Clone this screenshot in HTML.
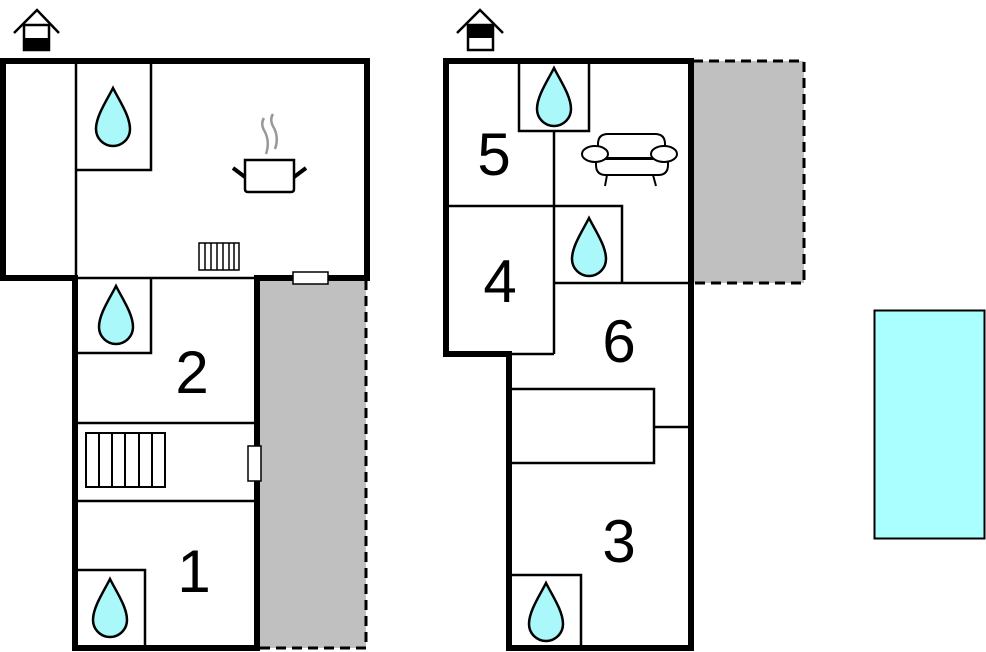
<!DOCTYPE html>
<html><head><meta charset="utf-8"><style>html,body{margin:0;padding:0;background:#fff}svg{display:block}</style></head>
<body>
<svg width="986" height="652" viewBox="0 0 986 652" xmlns="http://www.w3.org/2000/svg" font-family="Liberation Sans, sans-serif">
<defs>
<path id="drop" d="M0,0 C6,12 17,28 17,41 A17,17 0 0 1 -17,41 C-17,28 -6,12 0,0Z" fill="#aaf8fa" stroke="#000" stroke-width="2.5"/>
</defs>
<rect x="257" y="280" width="109" height="368" fill="#c0c0c0"/>
<path d="M366,280 V648 H257" fill="none" stroke="#000" stroke-width="3" stroke-dasharray="10,6"/>
<rect x="693" y="61" width="111" height="222" fill="#c0c0c0"/>
<path d="M693,61 H804 V283 H693" fill="none" stroke="#000" stroke-width="3" stroke-dasharray="10,6"/>
<rect x="874.5" y="310.5" width="110" height="228" fill="#aaffff" stroke="#000" stroke-width="2"/>

<g stroke="#000" stroke-width="2.5" fill="none">
<line x1="76" y1="61" x2="76" y2="278"/>
<path d="M76,170 H151 V61"/>
<line x1="75" y1="278" x2="257" y2="278"/>
<path d="M76,353 H151 V278"/>
<line x1="75" y1="423" x2="255" y2="423"/>
<line x1="75" y1="501" x2="255" y2="501"/>
<path d="M76,570 H145 V648"/>
</g>
<g stroke="#000" stroke-width="6" fill="none" stroke-linecap="square">
<path d="M3,278 V61 H367 V278 H257 V648 H75 V278 H3"/>
</g>
<rect x="293" y="272" width="35" height="12" fill="#fff" stroke="#000" stroke-width="1.5"/>
<rect x="248" y="446" width="13" height="35" fill="#fff" stroke="#000" stroke-width="1.5"/>
<g stroke="#000" stroke-width="2" fill="#fff">
<rect x="86" y="433" width="79" height="54"/>
<path d="M99,433V487M112,433V487M125,433V487M139,433V487M152,433V487" fill="none"/>
</g>
<g stroke="#000" stroke-width="1.5" fill="#fff">
<rect x="199" y="243" width="40" height="27"/>
<path d="M205,243V270M211,243V270M217,243V270M223,243V270M229,243V270M234,243V270" fill="none"/>
</g>
<g stroke="#000" fill="none">
<path d="M245,160 H294 V189 Q294,192 291,192 H248 Q245,192 245,189 Z" stroke-width="2.5" fill="#fff"/>
<line x1="233" y1="168" x2="245" y2="177" stroke-width="4"/>
<line x1="306" y1="168" x2="294" y2="177" stroke-width="4"/>
<path d="M264,118 Q260,124 265,132 Q270,142 266,154" stroke="#999" stroke-width="2.5"/>
<path d="M273,114 Q269,120 274,128 Q279,138 275,149" stroke="#999" stroke-width="2.5"/>
</g>
<g stroke="#000" fill="none" stroke-width="2.5">
<path d="M14,33 L37,10 L59,33"/>
<rect x="24" y="25" width="25" height="25" fill="#fff"/>
<path d="M457,33 L480,10 L503,33"/>
<rect x="468" y="25" width="25" height="25" fill="#fff"/>
</g>
<rect x="23" y="38" width="27" height="13" fill="#000"/>
<rect x="467" y="24" width="27" height="14" fill="#000"/>

<g stroke="#000" stroke-width="2.5" fill="none">
<path d="M519,61 V131 H589 V61"/>
<line x1="554" y1="131" x2="554" y2="354"/>
<path d="M446,206 H622 V283"/>
<line x1="554" y1="283" x2="691" y2="283"/>
<line x1="509" y1="354" x2="554" y2="354"/>
<rect x="509" y="389" width="145" height="74"/>
<line x1="654" y1="427" x2="691" y2="427"/>
<path d="M509,575 H581 V648"/>
</g>
<g stroke="#000" stroke-width="6" fill="none" stroke-linecap="square">
<path d="M446,354 V61 H691 V648 H509 V354 H446"/>
</g>
<g stroke="#000" stroke-width="2" fill="#fff">
<path d="M598,158 V144 Q598,134 608,134 H655 Q665,134 665,144 V158"/>
<path d="M596,158 V165 Q596,175 606,175 H658 Q668,175 668,165 V158 Z"/>
<line x1="600" y1="159" x2="664" y2="159"/>
<ellipse cx="595" cy="154" rx="13" ry="8"/>
<ellipse cx="664" cy="154" rx="13" ry="8"/>
<line x1="607" y1="175" x2="605" y2="186"/>
<line x1="653" y1="175" x2="656" y2="186"/>
</g>
<use href="#drop" x="113" y="88"/>
<use href="#drop" x="116" y="286"/>
<use href="#drop" x="110" y="579"/>
<use href="#drop" x="554" y="68"/>
<use href="#drop" x="589" y="218"/>
<use href="#drop" x="546" y="583"/>
<g font-size="60" text-anchor="middle" fill="#000">
<text x="192" y="393">2</text>
<text x="194" y="592">1</text>
<text x="494" y="175">5</text>
<text x="500" y="302">4</text>
<text x="619" y="362">6</text>
<text x="619" y="562">3</text>
</g>
</svg>
</body></html>
